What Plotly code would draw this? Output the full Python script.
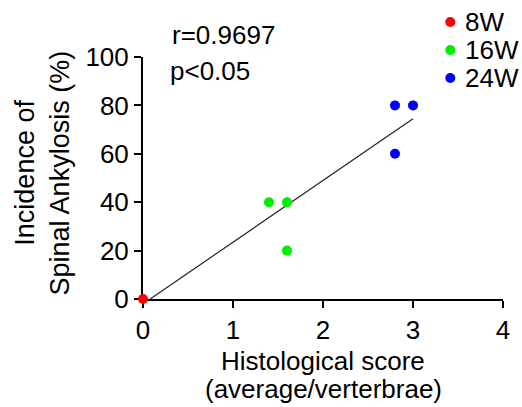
import plotly.graph_objects as go

# ---- data ----
groups = ["8W", "16W", "24W"]
group_colors = ["#FF0000", "#00EE00", "#0000FF"]
x_8w = [0.0]
y_8w = [0.0]
x_16w = [1.4, 1.6, 1.6]
y_16w = [40, 40, 20]
x_24w = [2.8, 3.0, 2.8]
y_24w = [80, 80, 60]
fit_x = [0.08, 3.0]
fit_y = [0.0, 74.5]
x_ticks = [0, 1, 2, 3, 4]
y_ticks = [0, 20, 40, 60, 80, 100]
stat_r = "r=0.9697"
stat_p = "p<0.05"

FONT = "Arial, 'Liberation Sans', sans-serif"
W, H = 522, 407
ML, MR, MT, MB = 143, 17, 57, 108
PW = W - ML - MR
PH = H - MT - MB


def px_x(px):
    return (px - ML) / PW


def px_y(py):
    return (H - MB - py) / PH


fig = go.Figure()

fig.add_trace(go.Scatter(x=fit_x, y=fit_y, mode="lines",
                         line=dict(color="#222222", width=1.2),
                         showlegend=False, hoverinfo="skip", cliponaxis=False))

xs = [x_8w, x_16w, x_24w]
ys = [y_8w, y_16w, y_24w]
for name, col, xv, yv in zip(groups, group_colors, xs, ys):
    fig.add_trace(go.Scatter(x=xv, y=yv, mode="markers", name=name,
                             marker=dict(color=col, size=10, line=dict(width=0)),
                             cliponaxis=False, showlegend=False))

axis_common = dict(showline=True, linecolor="black", linewidth=2,
                   ticks="outside", ticklen=7, tickwidth=2, tickcolor="black",
                   showgrid=False, zeroline=False, layer="below traces",
                   tickfont=dict(family=FONT, size=26, color="black"))
fig.update_xaxes(range=[0, 4], tickvals=x_ticks, **axis_common)
fig.update_yaxes(range=[0, 100], tickvals=y_ticks, **axis_common)

ann_font = dict(family=FONT, size=26, color="black")
annotations = [
    dict(text="Histological score", x=px_x(324), y=px_y(361), xanchor="center", yanchor="middle"),
    dict(text="(average/verterbrae)", x=px_x(324), y=px_y(389), xanchor="center", yanchor="middle"),
    dict(text="Incidence of", x=px_x(24), y=px_y(173), xanchor="center", yanchor="middle",
         textangle=-90, font=dict(family=FONT, size=27, color="black")),
    dict(text="Spinal Ankylosis (%)", x=px_x(60), y=px_y(173), xanchor="center", yanchor="middle",
         textangle=-90, font=dict(family=FONT, size=27, color="black")),
    dict(text=stat_r, x=px_x(170), y=px_y(35), xanchor="left", yanchor="middle"),
    dict(text=stat_p, x=px_x(168), y=px_y(71), xanchor="left", yanchor="middle"),
]

# manual legend (exact row spacing)
legend_rows = [22, 50, 78]
shapes = []
for name, col, row in zip(groups, group_colors, legend_rows):
    shapes.append(dict(type="circle", xref="paper", yref="paper",
                       xsizemode="pixel", ysizemode="pixel",
                       xanchor=px_x(452), yanchor=px_y(row),
                       x0=-5, x1=5, y0=-5, y1=5,
                       fillcolor=col, line=dict(width=0)))
    annotations.append(dict(text=name, x=px_x(465), y=px_y(row), xanchor="left", yanchor="middle"))

for a in annotations:
    a.setdefault("font", ann_font)
    a.update(xref="paper", yref="paper", showarrow=False)

fig.update_layout(
    width=W, height=H,
    margin=dict(l=ML, r=MR, t=MT, b=MB),
    paper_bgcolor="white", plot_bgcolor="white",
    annotations=annotations, shapes=shapes,
)

fig.write_html("out.html")
